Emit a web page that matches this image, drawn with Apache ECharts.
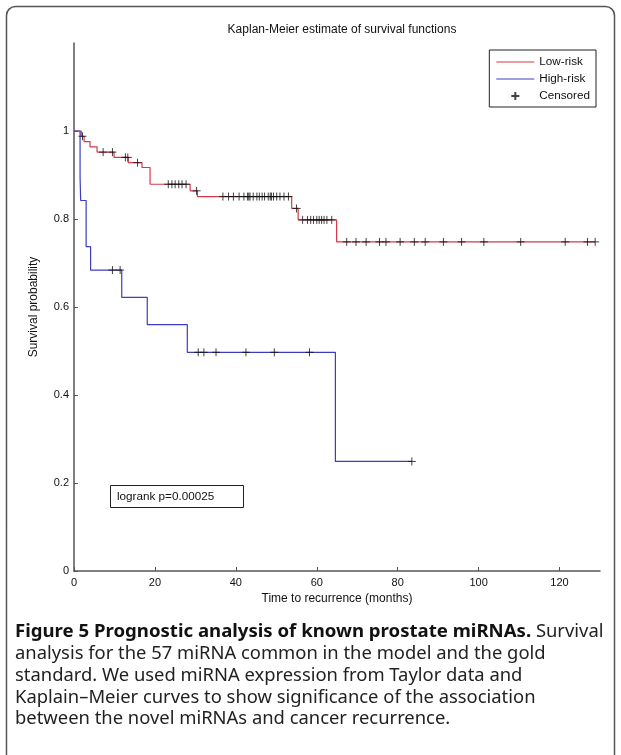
<!DOCTYPE html>
<html><head><meta charset="utf-8">
<script src="https://cdn.jsdelivr.net/npm/echarts@6/dist/echarts.min.js"></script>
<style>html,body{margin:0;padding:0;background:#fff}#c{width:621px;height:755px}</style>
</head><body><div id="c"></div>
<script>
// ---- data ----
const chartTitle = 'Kaplan-Meier estimate of survival functions';
const xTicks = [0, 20, 40, 60, 80, 100, 120];
const yTicks = [0, 0.2, 0.4, 0.6, 0.8, 1];
const lowTimes = [0, 1.8, 2.5, 3.96, 5.7, 9.9, 13.4, 16.8, 18.8, 28.7, 30.5, 53.8, 55.4, 64.9, 128.8];
const lowSurv  = [1, 0.988, 0.976, 0.964, 0.952, 0.940, 0.928, 0.917, 0.879, 0.864, 0.851, 0.824, 0.798, 0.748, 0.748];
const lowCensored = [2.1, 7.2, 9.5, 12.7, 13.3, 15.7, 23.3, 24.2, 25.0, 25.9, 26.7, 27.7, 30.3,
  36.8, 38.2, 39.4, 40.8, 42.0, 42.9, 43.2, 43.5, 44.3, 45.2, 45.8, 46.5, 47.1, 48.0, 48.5, 48.8, 49.3, 50.1, 50.9, 51.9, 53.0,
  55.0, 56.5, 57.7, 58.5, 59.2, 60.0, 60.6, 61.2, 61.8, 62.5, 63.7,
  67.4, 69.7, 72.2, 75.5, 77.1, 80.6, 84.1, 86.8, 91.3, 95.8, 101.3, 110.4, 121.4, 126.9, 128.8];
const highTimes = [0, 1.5, 1.65, 3.0, 4.1, 11.8, 18.1, 28.0, 64.6, 83.5];
const highSurv  = [1, 0.895, 0.842, 0.737, 0.684, 0.622, 0.560, 0.497, 0.249, 0.249];
const highCensored = [9.5, 11.4, 30.7, 32.1, 35.1, 42.5, 49.5, 58.2, 83.5];
const logrankText = 'logrank p=0.00025';
const captionBold = 'Figure 5 Prognostic analysis of known prostate miRNAs.';
const captionLines = [
  ' Survival',
  'analysis for the 57 miRNA common in the model and the gold',
  'standard. We used miRNA expression from Taylor data and',
  'Kaplain\u2013Meier curves to show significance of the association',
  'between the novel miRNAs and cancer recurrence.'
];

// ---- helpers ----
function survAt(times, surv, t) {
  let v = surv[0];
  for (let i = 0; i < times.length; i++) { if (times[i] <= t) v = surv[i]; }
  return v;
}
const pairs = (a, b) => a.map((t, i) => [t, b[i]]);
const plusPath = 'path://M0,4L8,4M4,0L4,8';
const lineIcon = 'path://M0,0M0,3.5L38,3.5L38,4.5L0,4.5ZM38,8';
const RED = '#d43a4a', BLUE = '#3c3cc4';
const FONT = 'Liberation Sans, Arial, sans-serif';
const CAPFONT = 'Noto Sans, Open Sans, sans-serif';

const chart = echarts.init(document.getElementById('c'), null, {renderer: 'canvas'});
const capY0 = 632, capDy = 21.8;
const graphics = [
  {type: 'rect', shape: {x: 6.5, y: 6.5, width: 608, height: 800, r: 9}, style: {fill: 'none', stroke: '#555', lineWidth: 1.5}, z: -1},
  {type: 'rect', shape: {x: 110.5, y: 485.5, width: 133, height: 22}, style: {fill: '#fff', stroke: '#222', lineWidth: 1}, z: 10},
  {type: 'text', x: 117, y: 496.5, style: {text: logrankText, font: '11.7px ' + FONT, fill: '#111', verticalAlign: 'middle'}, z: 11},
  {type: 'text', x: 15, y: capY0, style: {
    text: '{b|' + captionBold + '}{r|' + captionLines[0] + '}', verticalAlign: 'middle',
    rich: {b: {fontFamily: CAPFONT, fontSize: 18.6, fontWeight: 'bold', fill: '#111'}, r: {fontFamily: CAPFONT, fontSize: 18.4, fill: '#222'}}
  }}
];
for (let i = 1; i < captionLines.length; i++) {
  graphics.push({type: 'text', x: 15, y: capY0 + i * capDy, style: {text: captionLines[i], font: '18.4px ' + CAPFONT, fill: '#222', verticalAlign: 'middle'}});
}

chart.setOption({
  backgroundColor: '#fff',
  animation: false,
  title: {text: chartTitle, left: 337, top: 19, textAlign: 'center',
    textStyle: {fontFamily: FONT, fontSize: 12, fontWeight: 'normal', color: '#111'}},
  grid: {left: 74, right: 21, top: 43, bottom: 184, containLabel: false},
  legend: {
    orient: 'vertical', right: 25, top: 50, padding: [6, 6, 5, 7], itemGap: 5,
    itemWidth: 38, itemHeight: 8, borderColor: '#222', borderWidth: 1, backgroundColor: '#fff',
    textStyle: {fontFamily: FONT, fontSize: 11.7, color: '#111'},
    data: [
      {name: 'Low-risk', icon: lineIcon},
      {name: 'High-risk', icon: lineIcon},
      {name: 'Censored', icon: plusPath}
    ]
  },
  xAxis: {
    type: 'value', min: 0, max: 130, interval: 20,
    name: 'Time to recurrence (months)', nameLocation: 'middle', nameGap: 22,
    nameTextStyle: {fontFamily: FONT, fontSize: 12, color: '#111'},
    axisLine: {lineStyle: {color: '#555', width: 1.5}},
    axisTick: {inside: true, length: 4, customValues: xTicks, lineStyle: {color: '#555'}},
    axisLabel: {customValues: xTicks, margin: 6, fontFamily: FONT, fontSize: 11, color: '#111'},
    splitLine: {show: false}
  },
  yAxis: {
    type: 'value', min: 0, max: 1.2, interval: 0.2,
    name: 'Survival probability', nameLocation: 'middle', nameGap: 34, nameRotate: 90,
    nameTextStyle: {fontFamily: FONT, fontSize: 12, color: '#111'},
    axisLine: {lineStyle: {color: '#555', width: 1.5}},
    axisTick: {inside: true, length: 4, customValues: yTicks, lineStyle: {color: '#555'}},
    axisLabel: {customValues: yTicks, margin: 5, fontFamily: FONT, fontSize: 11, color: '#111',
      formatter: v => (v === 0 ? '0' : v === 1 ? '1' : String(v))},
    splitLine: {show: false}
  },
  series: [
    {name: 'Low-risk', type: 'line', step: 'end', symbol: 'none', data: pairs(lowTimes, lowSurv),
      lineStyle: {color: RED, width: 1.2}, itemStyle: {color: RED}, z: 2},
    {name: 'High-risk', type: 'line', step: 'end', symbol: 'none', data: pairs(highTimes, highSurv),
      lineStyle: {color: BLUE, width: 1.2}, itemStyle: {color: BLUE}, z: 3},
    {name: 'Censored', type: 'scatter', symbol: plusPath, symbolSize: 8,
      data: lowCensored.map(t => [t, survAt(lowTimes, lowSurv, t)]).concat(highCensored.map(t => [t, survAt(highTimes, highSurv, t)])),
      itemStyle: {color: 'transparent', borderColor: '#111', borderWidth: 1}, z: 4}
  ],
  graphic: graphics
});
</script></body></html>
